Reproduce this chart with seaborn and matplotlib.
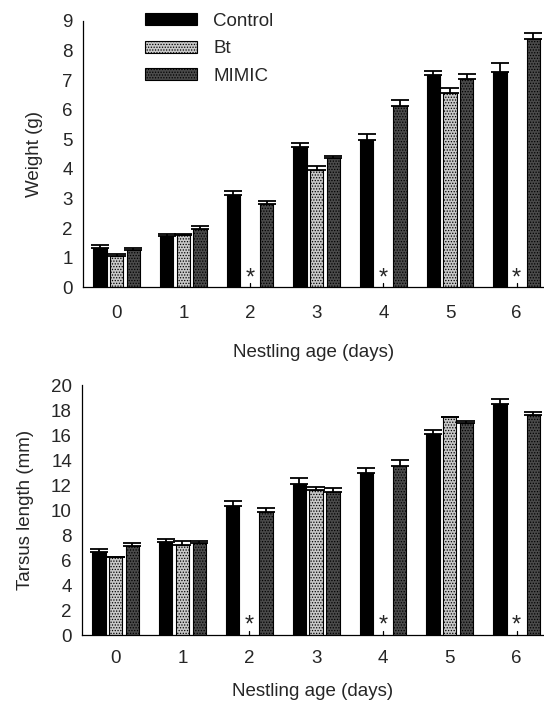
import numpy as np
import pandas as pd
import matplotlib
matplotlib.use("Agg")
import matplotlib.pyplot as plt
import seaborn as sns

# ---- data ----
ages = [0, 1, 2, 3, 4, 5, 6]
groups = ["Control", "Bt", "MIMIC"]

weight_control = [1.33, 1.72, 3.11, 4.74, 4.96, 7.16, 7.27]
weight_bt = [1.07, 1.76, np.nan, 3.96, np.nan, 6.57, np.nan]
weight_mimic = [1.27, 1.97, 2.80, 4.35, 6.11, 7.04, 8.40]
weight_control_se = [0.09, 0.07, 0.15, 0.15, 0.23, 0.13, 0.30]
weight_bt_se = [0.05, 0.05, np.nan, 0.15, np.nan, 0.16, np.nan]
weight_mimic_se = [0.06, 0.10, 0.11, 0.09, 0.23, 0.18, 0.18]

tarsus_control = [6.68, 7.43, 10.35, 12.11, 12.97, 16.12, 18.45]
tarsus_bt = [6.23, 7.17, np.nan, 11.63, np.nan, 17.41, np.nan]
tarsus_mimic = [7.11, 7.35, 9.84, 11.44, 13.56, 16.93, 17.57]
tarsus_control_se = [0.22, 0.27, 0.35, 0.46, 0.37, 0.27, 0.43]
tarsus_bt_se = [0.05, 0.34, np.nan, 0.24, np.nan, 0.05, np.nan]
tarsus_mimic_se = [0.22, 0.14, 0.29, 0.30, 0.42, 0.21, 0.29]

missing_ages = [2, 4, 6]  # Bt group missing (marked with *)

weight_ticks = list(range(0, 10))
tarsus_ticks = list(range(0, 21, 2))

colors = {"Control": "#000000", "Bt": "#c8c8c8", "MIMIC": "#4a4a4a"}
hatches = {"Control": None, "Bt": "......", "MIMIC": "......"}

FS = 13.5

sns.set_style("white")
plt.rcParams["font.family"] = ["Liberation Sans", "DejaVu Sans"]
plt.rcParams["hatch.linewidth"] = 0.6


def build(vals, ses):
    rows = []
    for g, v, s in zip(groups, vals, ses):
        for a, vv, ss in zip(ages, v, s):
            if not np.isnan(vv):
                rows.append({"age": str(a), "group": g, "value": vv, "se": ss})
    return pd.DataFrame(rows)


def panel(ax, vals, ses, ylabel, yticks, ylim, legend, ylabelpad, xlabelpad, xpad):
    df = build(vals, ses)
    sns.barplot(data=df, x="age", y="value", hue="group", hue_order=groups,
                order=[str(a) for a in ages], palette=colors, errorbar=None,
                width=0.75, gap=0.2, edgecolor="black", linewidth=0.8,
                saturation=1, ax=ax, legend=legend)
    nb = len(df)
    for p in ax.patches[:nb]:
        fc = matplotlib.colors.to_hex(p.get_facecolor())
        for g in groups:
            if fc == matplotlib.colors.to_hex(colors[g]) and hatches[g]:
                p.set_hatch(hatches[g])
    slot = 0.25
    offs = {g: (i - 1) * slot for i, g in enumerate(groups)}
    xs = [ages.index(int(a)) + offs[g] for a, g in zip(df["age"], df["group"])]
    ax.errorbar(xs, df["value"], yerr=[np.zeros(len(df)), df["se"]],
                fmt="none", ecolor="black", elinewidth=1.3, capsize=6.5,
                capthick=1.3, zorder=1)
    for a in missing_ages:
        xi = ages.index(a) + offs["Bt"]
        ax.plot([xi, xi], [0, (ylim[1] - ylim[0]) * 0.016], color="black", lw=0.9,
                clip_on=False)
        ax.annotate("*", xy=(xi, 0), xytext=(0, 3), textcoords="offset pixels",
                    ha="center", va="baseline", fontsize=17)
    ax.set_xlim(-0.51, 6.41)
    ax.set_ylim(*ylim)
    ax.set_yticks(yticks)
    ax.set_ylabel(ylabel, fontsize=FS, labelpad=ylabelpad)
    ax.set_xlabel("Nestling age (days)", fontsize=FS, labelpad=xlabelpad)
    ax.tick_params(axis="y", direction="in", length=4, width=0.9, labelsize=FS, pad=7)
    ax.tick_params(axis="x", length=0, labelsize=FS, pad=xpad)
    sns.despine(ax=ax)
    for s in ["left", "bottom"]:
        ax.spines[s].set_linewidth(0.9)
        ax.spines[s].set_color("black")


fig = plt.figure(figsize=(5.44, 7.07), dpi=100)
ax1 = fig.add_axes([0.152, 0.5936, 0.848, 0.377])
ax2 = fig.add_axes([0.150, 0.1018, 0.850, 0.3536])

panel(ax1, [weight_control, weight_bt, weight_mimic],
      [weight_control_se, weight_bt_se, weight_mimic_se],
      "Weight (g)", weight_ticks, (0, 9), True, 14, 16, 12.5)
panel(ax2, [tarsus_control, tarsus_bt, tarsus_mimic],
      [tarsus_control_se, tarsus_bt_se, tarsus_mimic_se],
      "Tarsus length (mm)", tarsus_ticks, (0, 20), False, 12, 11.5, 11)

leg = ax1.legend(loc="upper left", bbox_to_anchor=(145 / 544, 1 - 13 / 707),
                 bbox_transform=fig.transFigure, frameon=False, fontsize=FS,
                 handlelength=2.75, handleheight=0.6, labelspacing=0.55,
                 handletextpad=0.9, borderpad=0, borderaxespad=0)
for h, g in zip(leg.legend_handles, groups):
    h.set_edgecolor("black")
    if hatches[g]:
        h.set_hatch(hatches[g])

fig.savefig("out.png", dpi=100)
